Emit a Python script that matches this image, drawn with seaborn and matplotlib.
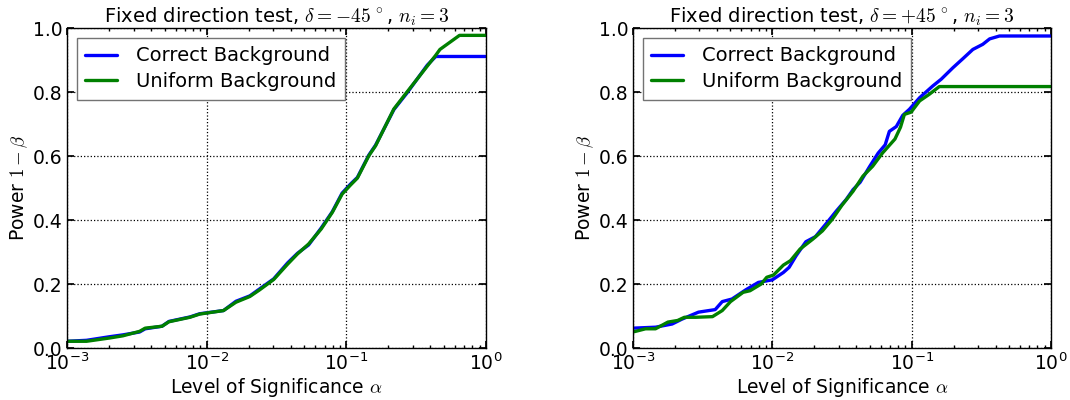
import numpy as np
import pandas as pd
import matplotlib
matplotlib.use("Agg")
import matplotlib.pyplot as plt
import seaborn as sns

# Significance levels and power, delta = -45 deg
alpha_neg = [0.001, 0.00138, 0.002, 0.00251, 0.00331, 0.00363, 0.00479, 0.00537,
             0.00759, 0.00891, 0.0132, 0.0162, 0.0204, 0.024, 0.0302, 0.038,
             0.0447, 0.0537, 0.0661, 0.0794, 0.0933, 0.107, 0.12, 0.145, 0.162,
             0.219, 0.272, 0.38, 0.437, 0.468, 0.646, 1.0]
power_neg_correct = [0.021, 0.024, 0.035, 0.041, 0.050, 0.060, 0.068, 0.083,
                     0.097, 0.107, 0.117, 0.146, 0.163, 0.185, 0.216, 0.266,
                     0.296, 0.322, 0.375, 0.426, 0.484, 0.512, 0.533, 0.603,
                     0.634, 0.745, 0.797, 0.884, 0.911, 0.911, 0.911, 0.911]
power_neg_uniform = [0.021, 0.021, 0.031, 0.038, 0.052, 0.062, 0.068, 0.082,
                     0.096, 0.106, 0.117, 0.143, 0.161, 0.182, 0.214, 0.262,
                     0.294, 0.325, 0.372, 0.424, 0.481, 0.509, 0.531, 0.601,
                     0.632, 0.747, 0.800, 0.881, 0.915, 0.933, 0.977, 0.977]

# Significance levels and power, delta = +45 deg
alpha_pos_correct = [0.001, 0.00145, 0.00191, 0.00224, 0.00295, 0.00389, 0.00437,
                     0.00513, 0.00646, 0.00794, 0.0100, 0.0120, 0.0132, 0.0148,
                     0.0174, 0.0204, 0.0245, 0.0288, 0.0339, 0.0380, 0.0427,
                     0.0501, 0.0575, 0.0646, 0.0692, 0.0776, 0.0863, 0.0964,
                     0.114, 0.142, 0.163, 0.198, 0.233, 0.275, 0.324, 0.363,
                     0.427, 1.0]
power_pos_correct = [0.062, 0.065, 0.075, 0.090, 0.112, 0.120, 0.145, 0.153,
                     0.182, 0.205, 0.213, 0.236, 0.252, 0.288, 0.332, 0.348,
                     0.390, 0.428, 0.464, 0.495, 0.518, 0.568, 0.609, 0.635,
                     0.677, 0.692, 0.727, 0.746, 0.782, 0.819, 0.840, 0.876,
                     0.904, 0.933, 0.949, 0.966, 0.975, 0.975]
alpha_pos_uniform = [0.001, 0.00123, 0.00145, 0.00178, 0.00209, 0.00234, 0.00282,
                     0.00372, 0.00437, 0.00501, 0.00617, 0.00692, 0.00832,
                     0.00912, 0.0102, 0.0120, 0.0135, 0.0158, 0.0195, 0.0229,
                     0.0269, 0.0316, 0.0380, 0.0447, 0.0525, 0.0617, 0.0759,
                     0.0832, 0.0887, 0.0991, 0.114, 0.134, 0.158, 1.0]
power_pos_uniform = [0.050, 0.060, 0.060, 0.081, 0.086, 0.096, 0.096, 0.098,
                     0.117, 0.145, 0.174, 0.179, 0.200, 0.221, 0.228, 0.259,
                     0.273, 0.309, 0.340, 0.366, 0.402, 0.446, 0.490, 0.537,
                     0.568, 0.609, 0.653, 0.690, 0.730, 0.737, 0.772, 0.793,
                     0.817, 0.817]

series_names = ["Correct Background", "Uniform Background"]
titles = [r"Fixed direction test, $\delta = -45\,^\circ$, $n_i = 3$",
          r"Fixed direction test, $\delta = +45\,^\circ$, $n_i = 3$"]
y_ticks = [0.0, 0.2, 0.4, 0.6, 0.8, 1.0]


def frame(alpha_a, power_a, alpha_b, power_b):
    a = pd.DataFrame({"alpha": alpha_a, "power": power_a, "series": series_names[0]})
    b = pd.DataFrame({"alpha": alpha_b, "power": power_b, "series": series_names[1]})
    return pd.concat([a, b], ignore_index=True)


panels = [
    frame(alpha_neg, power_neg_correct, alpha_neg, power_neg_uniform),
    frame(alpha_pos_correct, power_pos_correct, alpha_pos_uniform, power_pos_uniform),
]

sns.set_theme(style="white", rc={
    "axes.edgecolor": "black",
    "axes.linewidth": 1.0,
    "xtick.direction": "in",
    "ytick.direction": "in",
    "xtick.top": True,
    "ytick.right": True,
    "xtick.bottom": True,
    "ytick.left": True,
    "xtick.major.size": 5,
    "xtick.minor.size": 2.5,
    "ytick.major.size": 5,
    "xtick.color": "black",
    "ytick.color": "black",
    "axes.labelcolor": "black",
    "text.color": "black",
})
plt.rcParams["font.family"] = ["DejaVu Sans"]
plt.rcParams["mathtext.fontset"] = "cm"

fig = plt.figure(figsize=(10.7, 4.0), dpi=100)
ax_l = fig.add_axes([0.0626, 0.13, 0.3916, 0.80])
ax_r = fig.add_axes([0.5916, 0.13, 0.3906, 0.80])
palette = {series_names[0]: "#0000ff", series_names[1]: "#008000"}

for ax, data, title in zip([ax_l, ax_r], panels, titles):
    sns.lineplot(data=data, x="alpha", y="power", hue="series", palette=palette,
                 estimator=None, sort=False, linewidth=2.4, ax=ax)
    ax.set_xscale("log")
    ax.set_xlim(1e-3, 1.0)
    ax.set_ylim(0.0, 1.0)
    ax.set_yticks(y_ticks)
    ax.set_yticklabels([f"{v:.1f}" for v in y_ticks])
    ax.grid(True, which="major", linestyle=":", color="black", linewidth=0.9)
    ax.tick_params(axis="both", which="major", labelsize=13.5, pad=3)
    ax.tick_params(axis="x", which="minor", top=True, bottom=True)
    for sp in ax.spines.values():
        sp.set_visible(True)
        sp.set_color("black")
    ax.set_title(title, fontsize=14, pad=4)
    ax.set_xlabel(r"Level of Significance $\alpha$", fontsize=13.5, labelpad=2)
    ax.set_ylabel(r"Power $1-\beta$", fontsize=13.5, labelpad=2)
    leg = ax.legend(loc="upper left", fontsize=14, frameon=True, fancybox=False,
                    handlelength=1.6, handletextpad=1.0, borderpad=0.45,
                    labelspacing=0.35, borderaxespad=0.5)
    leg.get_frame().set_edgecolor("0.45")
    leg.get_frame().set_linewidth(1.0)
    leg.get_frame().set_alpha(1.0)

fig.savefig("out.png", dpi=100)
